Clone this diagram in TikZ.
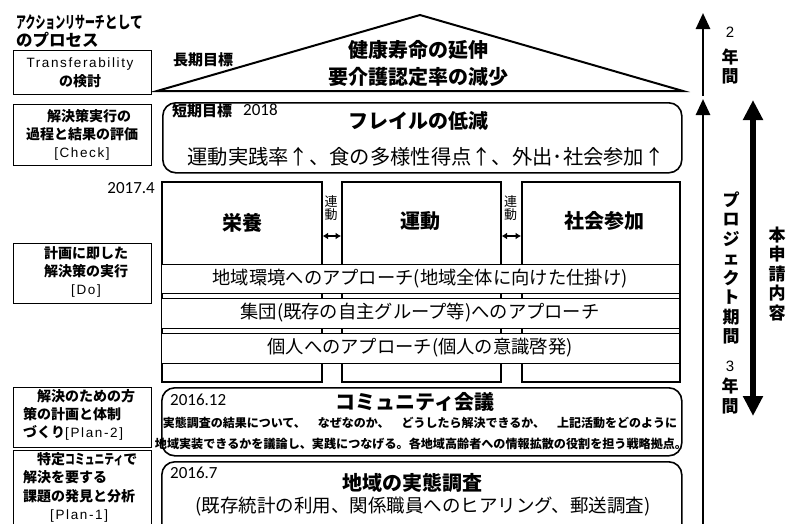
\documentclass[tikz,border=0pt]{standalone}
\usepackage{fontspec}
\usepackage{graphicx}
\setmainfont{Noto Sans CJK JP}
\newfontfamily\arialf{Liberation Sans}
\newfontfamily\arialsp[LetterSpace=12]{Liberation Sans}
\newfontfamily\numf{Carlito}
\usetikzlibrary{arrows.meta}
\tikzset{
  lbox/.style={draw, line width=1pt, fill=white, inner sep=0pt, anchor=north west},
  colbox/.style={draw, line width=1.6pt, fill=white, inner sep=0pt, anchor=north west},
  rowbox/.style={draw, line width=1.3pt, fill=white, inner sep=0pt, anchor=north west},
  rbox/.style={draw, line width=1.6pt, fill=white, rounded corners=13pt, inner sep=0pt, anchor=north west},
  txt/.style={inner sep=0pt, text=black},
  lefttxt/.style={txt, align=center, font=\fontsize{14}{18}\selectfont\bfseries},
  numtxt/.style={txt, anchor=west, font=\fontsize{17}{17}\selectfont\numf},
  headtxt/.style={txt, font=\fontsize{20}{27}\selectfont\bfseries, align=center},
  rowtxt/.style={txt, font=\fontsize{18.3}{18.3}\selectfont},
  vtxt/.style={txt, align=center, font=\fontsize{17}{19.5}\selectfont\bfseries},
  linkarrow/.style={{Latex[length=5.5pt,width=7pt]}-{Latex[length=5.5pt,width=7pt]}, line width=1.8pt},
  parrow/.style={-{Triangle[length=16pt,width=14pt]}, line width=2.7pt},
  bigarrow/.style={{Triangle[length=20pt,width=19pt]}-{Triangle[length=20pt,width=19pt]}, line width=6pt}
}
\begin{document}
\begin{tikzpicture}[x=1pt,y=-1pt]
\useasboundingbox (0,0) rectangle (794,523);
% ---- long-term goal triangle
\coordinate (tL) at (157,91);
\coordinate (tA) at (420,15);
\coordinate (tR) at (683,91);
\draw[line width=2pt, line join=miter] (tL) -- (tA) -- (tR) -- cycle;
\node[headtxt] (goal) at (418,63.5) {健康寿命の延伸\\要介護認定率の減少};
\node[txt, font=\fontsize{15}{15}\selectfont\bfseries] (ltg) at (203,60) {長期目標};
% ---- left column
\node[txt, anchor=west, align=left, font=\fontsize{16.5}{18}\selectfont\bfseries] (ar) at (16,31)
  {\scalebox{0.6}[1]{アクションリサーチ}\scalebox{0.78}[1]{として}\\のプロセス};
\node[lbox, minimum width=138pt, minimum height=44pt] (b1) at (13,50) {};
\node[lefttxt, font=\fontsize{14}{19}\selectfont] (b1t) at (80,72.5)
  {{\arialsp\fontsize{13.5}{19}\selectfont Transferability}\\{\bfseries の検討}};
\node[lbox, minimum width=138pt, minimum height=61pt] (b2) at (13,104) {};
\node[lefttxt] (b2t) at (82,134.5)
  {　解決策実行の\\過程と結果の評価\\{\mdseries\arialsp\fontsize{13.5}{18}\selectfont [Check]}};
\node[txt, anchor=east, font=\fontsize{17}{17}\selectfont\numf] (d4) at (155,188) {2017.4};
\node[lbox, minimum width=138pt, minimum height=60pt] (b3) at (13,243) {};
\node[lefttxt] (b3t) at (86,271.5)
  {計画に即した\\解決策の実行\\{\mdseries\arialsp\fontsize{13.5}{18}\selectfont [Do]}};
\node[lbox, minimum width=138pt, minimum height=60pt] (b4) at (13,387) {};
\node[lefttxt, anchor=west, align=left] (b4t) at (23,415)
  {　解決のための方\\策の計画と体制\\づくり{\mdseries\arialsp\fontsize{13.5}{18}\selectfont [Plan-2]}};
\node[lbox, minimum width=138pt, minimum height=85pt] (b5) at (13,450) {};
\node[lefttxt, anchor=west, align=left, font=\fontsize{14}{18.3}\selectfont\bfseries] (b5t) at (23,487.5)
  {　特定\scalebox{0.7}[1]{コミュニティ}で\\解決を要する\\課題の発見と分析\\\hspace*{27pt}{\mdseries\arialsp\fontsize{13.5}{18}\selectfont [Plan-1]}};
% ---- short-term goal
\node[rbox, minimum width=519pt, minimum height=70pt] (stg) at (162,102) {};
\node[txt, anchor=west, font=\fontsize{15}{15}\selectfont\bfseries] (stgl) at (172,111) {短期目標};
\node[numtxt] (d18) at (243,110) {2018};
\node[headtxt] (frail) at (418,121) {フレイルの低減};
\node[txt, font=\fontsize{20.3}{20.3}\selectfont] (frailsub) at (426,157) {運動実践率↑、食の多様性得点↑、外出･社会参加↑};
% ---- three columns
\node[colbox, minimum width=160pt, minimum height=200pt] (c1) at (161,181) {};
\node[colbox, minimum width=159pt, minimum height=200pt] (c2) at (341,181) {};
\node[colbox, minimum width=158pt, minimum height=200pt] (c3) at (521,181) {};
\node[headtxt] (c1t) at (242,223) {栄養};
\node[headtxt] (c2t) at (420,221) {運動};
\node[headtxt] (c3t) at (604,221) {社会参加};
\node[txt, align=center, font=\fontsize{13}{13.5}\selectfont] (lk1) at (331,208) {連\\動};
\node[txt, align=center, font=\fontsize{13}{13.5}\selectfont] (lk2) at (510.5,208) {連\\動};
\draw[linkarrow] (c1.east |- 0,236) -- (c2.west |- 0,236);
\draw[linkarrow] (c2.east |- 0,236) -- (c3.west |- 0,236);
% ---- rows
\node[rowbox, minimum width=518pt, minimum height=29pt] (r1) at (161,264) {};
\node[rowbox, minimum width=518pt, minimum height=30pt] (r2) at (161,298) {};
\node[rowbox, minimum width=518pt, minimum height=30pt] (r3) at (161,333) {};
\node[rowtxt] (r1t) at (420,278.5) {地域環境へのアプローチ(地域全体に向けた仕掛け)};
\node[rowtxt] (r2t) at (420,313) {集団(既存の自主グループ等)へのアプローチ};
\node[rowtxt] (r3t) at (420,348) {個人へのアプローチ(個人の意識啓発)};
% ---- community meeting
\node[rbox, minimum width=520pt, minimum height=68pt] (cm) at (161,387) {};
\node[numtxt] (d1612) at (170,400) {2016.12};
\node[headtxt] (cmt) at (415,402) {コミュニティ会議};
\node[txt, font=\fontsize{12}{12}\selectfont\bfseries] (cm1) at (420,423)
  {実態調査の結果について、　なぜなのか、　どうしたら解決できるか、　上記活動をどのように};
\node[txt, font=\fontsize{12.1}{12.1}\selectfont\bfseries] (cm2) at (421,444)
  {地域実装できるかを議論し、実践につなげる。各地域高齢者への情報拡散の役割を担う戦略拠点。};
% ---- survey
\node[rbox, minimum width=520pt, minimum height=80pt] (sv) at (161,461) {};
\node[numtxt] (d167) at (170,473) {2016.7};
\node[headtxt] (svt) at (412,483) {地域の実態調査};
\node[txt, font=\fontsize{18.5}{18.5}\selectfont] (svs) at (423,507) {(既存統計の利用、関係職員へのヒアリング、郵送調査)};
% ---- right arrows
\coordinate (p1s) at (703,96);
\coordinate (p1e) at (703,13);
\coordinate (p2s) at (703,530);
\coordinate (p2e) at (703,99);
\coordinate (q1) at (753,100);
\coordinate (q2) at (753,416);
\draw[parrow] (p1s) -- (p1e);
\draw[parrow] (p2s) -- (p2e);
\draw[bigarrow] (q1) -- (q2);
\node[txt, font=\fontsize{15}{15}\selectfont\arialf] (n2) at (730,32) {2};
\node[vtxt] (y2) at (730,66.5) {年\\間};
\node[vtxt] (pp) at (731,268) {プ\\ロ\\ジ\\ェ\\ク\\ト\\期\\間};
\node[txt, font=\fontsize{15}{15}\selectfont\arialf] (n3) at (730,366) {3};
\node[vtxt] (y3) at (730,396) {年\\間};
\node[vtxt] (hs) at (777,274) {本\\申\\請\\内\\容};
\end{tikzpicture}
\end{document}
